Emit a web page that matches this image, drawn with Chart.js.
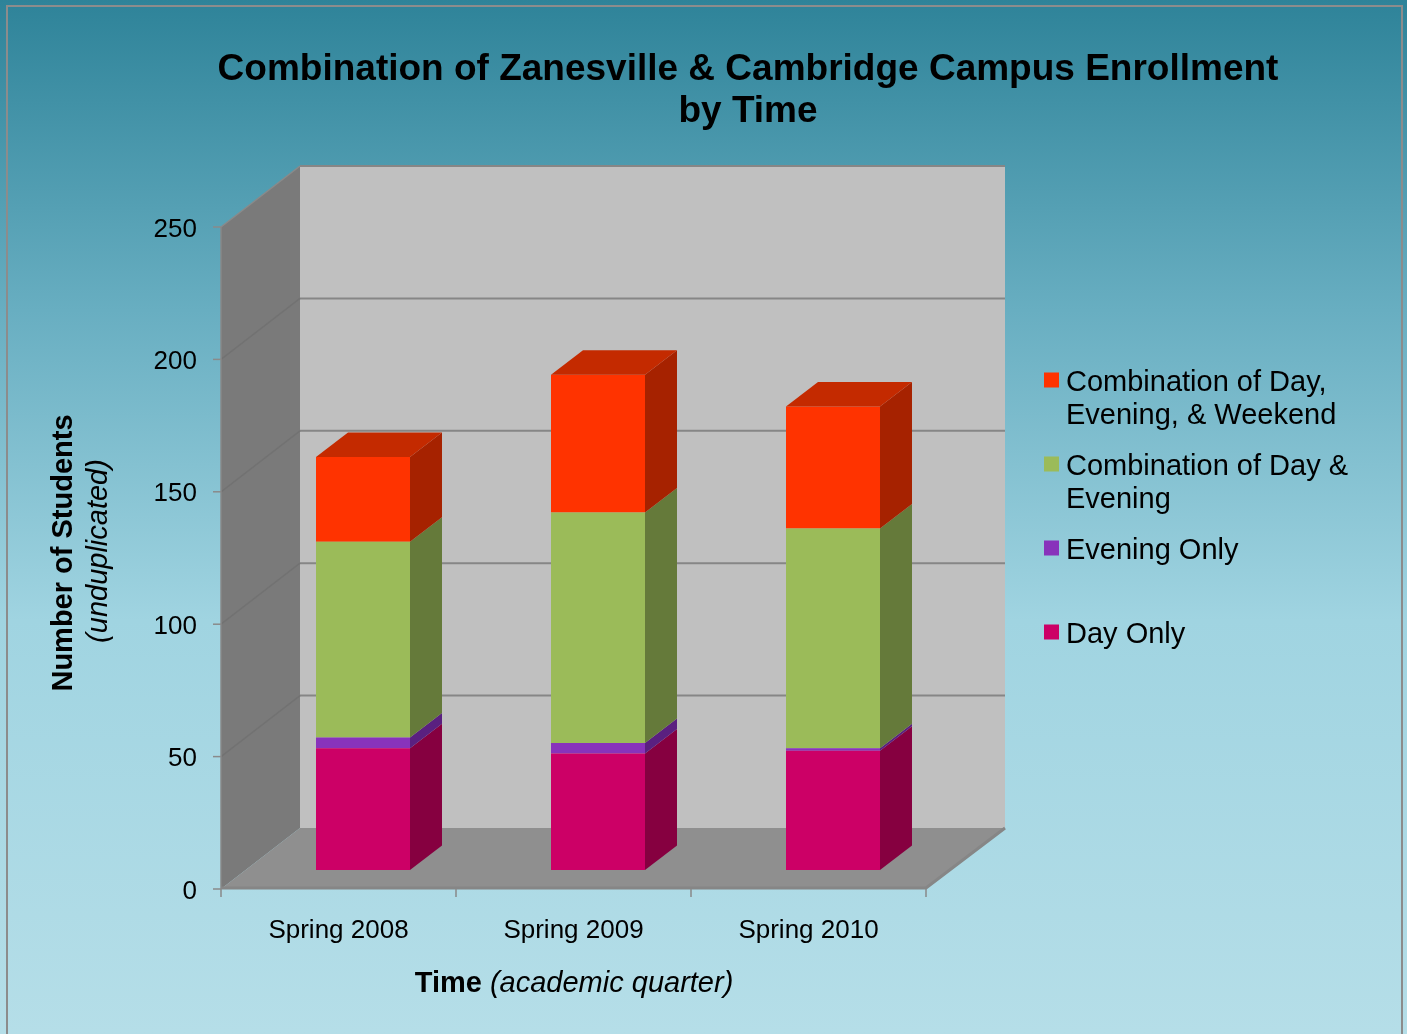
<!DOCTYPE html>
<html><head><meta charset="utf-8">
<script src="https://cdn.jsdelivr.net/npm/chart.js"></script>
<style>html,body{margin:0;padding:0;background:#fff}#wrap{width:1407px;height:1034px;position:relative}</style>
</head><body><div id="wrap"><canvas id="c"></canvas></div>
<script>
// ---- data ----
const categories = ['Spring 2008', 'Spring 2009', 'Spring 2010'];
const dayOnly = [46, 44, 45];
const eveningOnly = [4, 4, 1];
const dayAndEvening = [74, 87, 83];
const dayEveningWeekend = [32, 52, 46];
const yTicks = [0, 50, 100, 150, 200, 250];
const seriesNames = ['Day Only', 'Evening Only', 'Combination of Day & Evening', 'Combination of Day, Evening, & Weekend'];
const legendLines = [['Combination of Day,', 'Evening, & Weekend'], ['Combination of Day &', 'Evening'], ['Evening Only'], ['Day Only']];
const titleLines = ['Combination of Zanesville & Cambridge Campus Enrollment', 'by Time'];

// ---- styles ----
const frontColors = ['#CC0066', '#8833BB', '#9BBB59', '#FF3300'];
const sideColors = ['#860040', '#5A2080', '#657A3A', '#A62200'];
const topColors = ['#A8004F', '#70289C', '#7D9848', '#C42A00'];
const FONT = '"Liberation Sans", Arial, sans-serif';
const FDX = 24.5, FDY = 19, BDX = 32, BDY = 24.5, WDX = 79, WDY = 61;

function txt(ctx, s, x, y, font, align, color) {
  ctx.font = font; ctx.textAlign = align || 'left'; ctx.textBaseline = 'alphabetic';
  ctx.fillStyle = color || '#000'; ctx.fillText(s, x, y);
}
function poly(ctx, pts, fill) {
  ctx.beginPath(); ctx.moveTo(pts[0][0], pts[0][1]);
  for (let i = 1; i < pts.length; i++) ctx.lineTo(pts[i][0], pts[i][1]);
  ctx.closePath(); ctx.fillStyle = fill; ctx.fill();
}

const threeD = {
  id: 'threeD',
  beforeDraw(chart) {
    const ctx = chart.ctx, W = chart.width, H = chart.height;
    const a = chart.chartArea, ys = chart.scales.y, xs = chart.scales.x;
    ctx.save();
    // background
    const g = ctx.createLinearGradient(0, 0, 0, H);
    g.addColorStop(0, '#2E8399'); g.addColorStop(0.3, '#68AEC1');
    g.addColorStop(0.6, '#A0D4E1'); g.addColorStop(1, '#B5DEE8');
    ctx.fillStyle = g; ctx.fillRect(0, 0, W, H);
    ctx.strokeStyle = '#8C8C8C'; ctx.lineWidth = 2;
    ctx.beginPath(); ctx.moveTo(7, H + 5); ctx.lineTo(7, 6); ctx.lineTo(1402, 6); ctx.lineTo(1402, H + 5); ctx.stroke();

    const L = a.left, R = a.right, T = a.top, B = a.bottom;
    // back wall
    poly(ctx, [[L + WDX, T - WDY], [R + WDX, T - WDY], [R + WDX, B - WDY], [L + WDX, B - WDY]], '#C0C0C0');
    // left wall
    poly(ctx, [[L, T], [L + WDX, T - WDY], [L + WDX, B - WDY], [L, B]], '#7A7A7A');
    // floor
    poly(ctx, [[L, B], [L + WDX, B - WDY], [R + WDX, B - WDY], [R, B]], '#8F8F8F');
    // gridlines
    yTicks.forEach(v => {
      const y = ys.getPixelForValue(v);
      if (v > 0) {
        ctx.strokeStyle = '#868686'; ctx.lineWidth = 2;
        ctx.beginPath(); ctx.moveTo(L + WDX, y - WDY); ctx.lineTo(R + WDX, y - WDY); ctx.stroke();
        ctx.strokeStyle = v === 250 ? '#8A8A8A' : '#727272'; ctx.lineWidth = 1.5;
        ctx.beginPath(); ctx.moveTo(L, y); ctx.lineTo(L + WDX, y - WDY); ctx.stroke();
      }
      ctx.strokeStyle = '#8A8A8A'; ctx.lineWidth = 1.5;
      ctx.beginPath(); ctx.moveTo(L - 8, y); ctx.lineTo(L, y); ctx.stroke();
      txt(ctx, String(v), L - 24, y + 9.5, '26px ' + FONT, 'right');
    });
    // floor edges
    ctx.strokeStyle = '#868686'; ctx.lineWidth = 3;
    ctx.beginPath(); ctx.moveTo(L, B - 1); ctx.lineTo(R, B - 1); ctx.lineTo(R + WDX, B - WDY); ctx.stroke();
    ctx.lineWidth = 1.5; ctx.strokeStyle = '#888';
    ctx.beginPath(); ctx.moveTo(L, T); ctx.lineTo(L, B); ctx.stroke();
    // x ticks and labels
    const n = categories.length, step = (R - L) / n;
    for (let k = 0; k <= n; k++) {
      const x = L + k * step;
      ctx.beginPath(); ctx.moveTo(x, B); ctx.lineTo(x, B + 8); ctx.stroke();
    }
    categories.forEach((c, i) => {
      txt(ctx, c, xs.getPixelForValue(i), 938, '26px ' + FONT, 'center');
    });
    // title
    txt(ctx, titleLines[0], 748, 80, 'bold 37px ' + FONT, 'center');
    txt(ctx, titleLines[1], 748, 122, 'bold 37px ' + FONT, 'center');
    // x axis title
    ctx.font = 'bold 29px ' + FONT; const w1 = ctx.measureText('Time').width;
    ctx.font = 'italic 29px ' + FONT; const w2 = ctx.measureText(' (academic quarter)').width;
    const sx = 574 - (w1 + w2) / 2;
    txt(ctx, 'Time', sx, 992, 'bold 29px ' + FONT, 'left');
    txt(ctx, ' (academic quarter)', sx + w1, 992, 'italic 29px ' + FONT, 'left');
    // y axis title
    ctx.save(); ctx.translate(62, 553); ctx.rotate(-Math.PI / 2);
    txt(ctx, 'Number of Students', 0, 10, 'bold 29px ' + FONT, 'center');
    ctx.restore();
    ctx.save(); ctx.translate(97, 551); ctx.rotate(-Math.PI / 2);
    txt(ctx, '(unduplicated)', 0, 10, 'italic 29px ' + FONT, 'center');
    ctx.restore();
    // legend
    const legY = [[380, 413], [464, 497], [548], [632]];
    const legColorIdx = [3, 2, 1, 0];
    legendLines.forEach((lines, i) => {
      ctx.fillStyle = frontColors[legColorIdx[i]];
      ctx.fillRect(1044, legY[i][0] - 7.5, 15, 15);
      lines.forEach((s, j) => txt(ctx, s, 1066, legY[i][j] + 10.5, '29px ' + FONT, 'left'));
    });
    ctx.restore();
  },
  beforeDatasetsDraw(chart) {
    chart.ctx.save(); chart.ctx.translate(FDX, -FDY);
  },
  afterDatasetsDraw(chart) {
    const ctx = chart.ctx;
    ctx.restore();
    ctx.save();
    const nd = chart.data.datasets.length;
    for (let d = 0; d < nd; d++) {
      const meta = chart.getDatasetMeta(d);
      meta.data.forEach(el => {
        const xL = el.x - el.width / 2 + FDX, xR = el.x + el.width / 2 + FDX;
        const yT = el.y - FDY, yB = el.base - FDY;
        poly(ctx, [[xR, yB], [xR, yT], [xR + BDX, yT - BDY], [xR + BDX, yB - BDY]], sideColors[d]);
        if (d === nd - 1) {
          poly(ctx, [[xL, yT], [xL + BDX, yT - BDY], [xR + BDX, yT - BDY], [xR, yT]], topColors[d]);
        }
      });
    }
    ctx.restore();
  }
};

const seriesData = [dayOnly, eveningOnly, dayAndEvening, dayEveningWeekend];
new Chart(document.getElementById('c'), {
  type: 'bar',
  data: {
    labels: categories,
    datasets: seriesData.map((arr, i) => ({
      label: seriesNames[i], data: arr, backgroundColor: frontColors[i], borderWidth: 0,
      barPercentage: 0.4, categoryPercentage: 1.0
    }))
  },
  options: {
    responsive: true, maintainAspectRatio: false, animation: false,
    layout: { padding: { left: 221, right: 481, top: 227, bottom: 145 } },
    plugins: { legend: { display: false }, title: { display: false }, tooltip: { enabled: false } },
    scales: {
      x: { stacked: true, display: false },
      y: { stacked: true, display: false, min: 0, max: 250, ticks: { stepSize: 50 } }
    }
  },
  plugins: [threeD]
});
</script>
</body></html>
